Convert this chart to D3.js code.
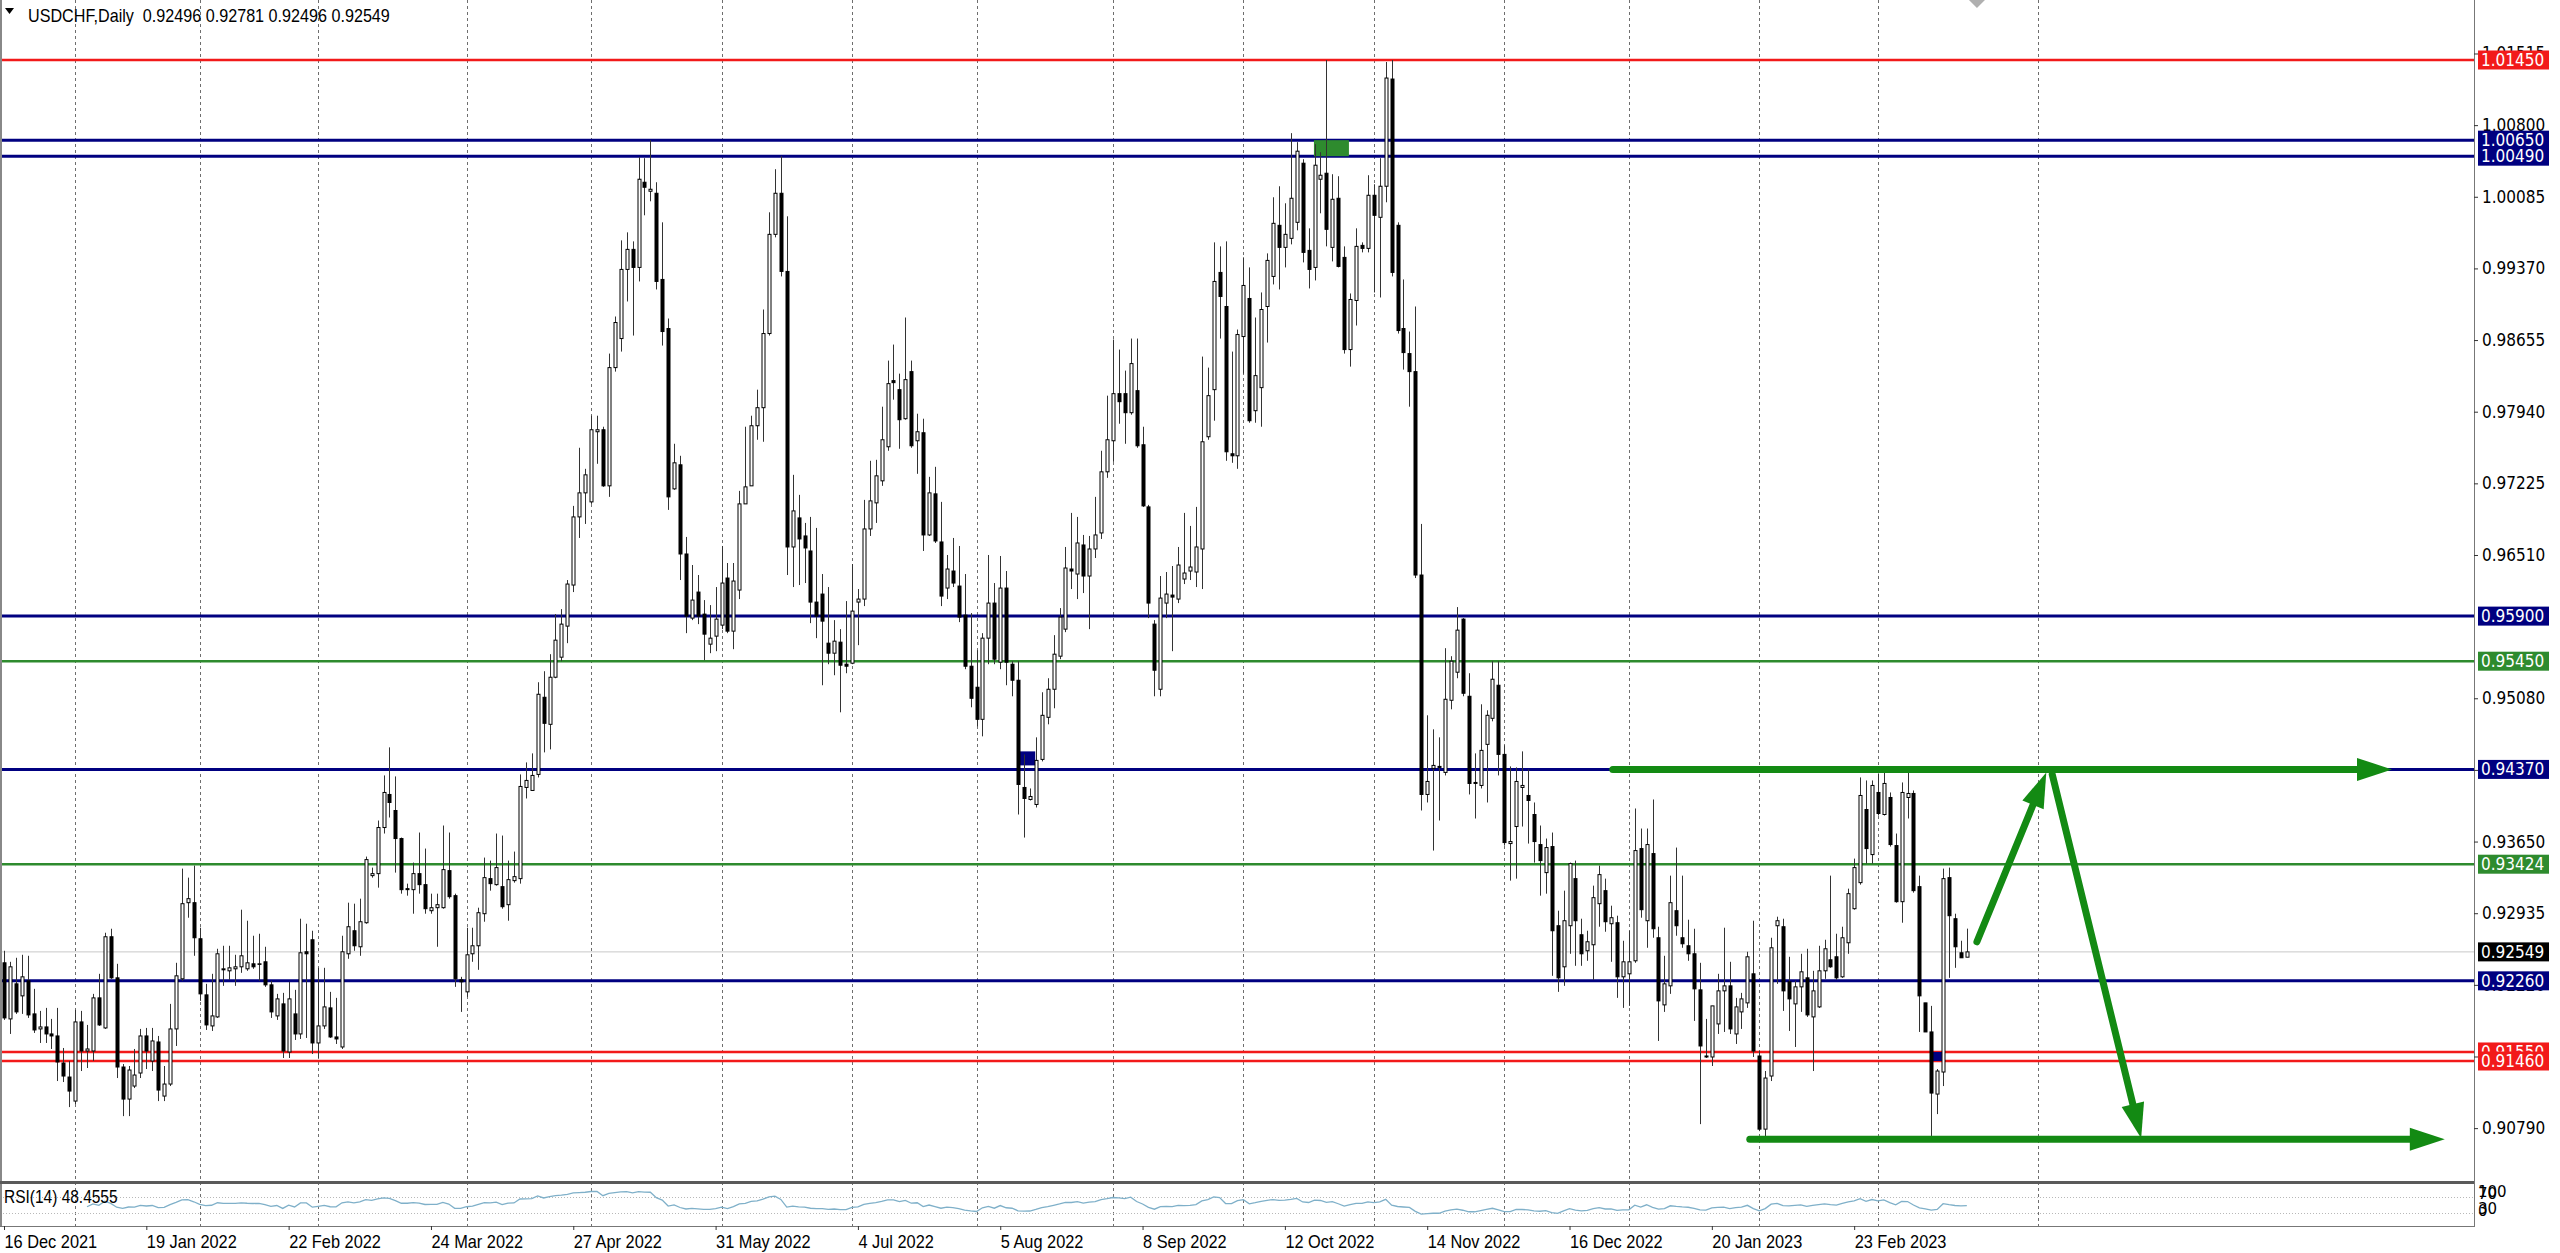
<!DOCTYPE html>
<html><head><meta charset="utf-8">
<script src="https://cdn.jsdelivr.net/npm/d3@7"></script>
<style>html,body{margin:0;padding:0;background:#fff;overflow:hidden}text{white-space:pre}</style>
</head><body>
<svg id="c" width="2560" height="1253"></svg>
<script>
// ---------- DATA (USDCHF Daily, bar index 0 = 16 Dec 2021) ----------
const opens = [
.9244,.9188,.9223,.9211,.9226,.9193,.9178,.9180,.9173,.9171,
.9144,.9130,.9106,.9185,.9156,.9156,.9209,.9179,.9270,.9229,
.9140,.9108,.9121,.9134,.9171,.9146,.9165,.9111,.9123,.9178,
.9228,.9304,.9304,.9268,.9212,.9181,.9190,.9237,.9236,.9238,
.9240,.9238,.9243,.9243,.9245,.9222,.9191,.9203,.9155,.9193,
.9173,.9255,.9267,.9164,.9181,.9199,.9170,.9160,.9253,.9276,
.9260,.9284,.9331,.9333,.9379,.9412,.9396,.9368,.9318,.9317,
.9333,.9322,.9296,.9299,.9299,.9336,.9311,.9227,.9215,.9253,
.9261,.9293,.9328,.9322,.9320,.9302,.9326,.9328,.9419,.9416,
.9432,.9509,.9482,.9529,.9549,.9580,.9621,.9689,.9713,.9704,
.9774,.9776,.9720,.9838,.9867,.9936,.9956,.9938,1.0023,1.0014,
1.0012,.9926,.9877,.9717,.9741,.9652,.9588,.9614,.9592,.9562,
.9570,.9581,.9628,.9575,.9616,.9702,.9720,.9780,.9798,.9872,
.9971,1.0012,.9934,.9659,.9688,.9670,.9655,.9604,.9612,.9563,
.9553,.9564,.9542,.9543,.9604,.9607,.9677,.9703,.9725,.9759,
.9825,.9816,.9787,.9834,.9765,.9773,.9671,.9712,.9664,.9618,
.9635,.9620,.9591,.9540,.9519,.9487,.9568,.9603,.9544,.9618,
.9542,.9526,.9419,.9407,.9402,.9447,.9489,.9517,.9550,.9577,
.9637,.9632,.9661,.9630,.9657,.9673,.9734,.9765,.9812,.9812,
.9793,.9815,.9761,.9699,.9582,.9517,.9603,.9611,.9607,.9627,
.9635,.9634,.9657,.9769,.9816,.9933,.9899,.9752,.9750,.9869,
.9907,.9795,.9818,.9899,.9929,.9980,.9958,.9967,.9983,1.0042,
.9955,.9938,1.0026,1.0032,.9958,1.0007,.9948,.9856,.9905,.9960,
.9957,1.0010,.9988,1.0019,1.0126,.9980,.9877,.9852,.9834,.9631,
.9412,.9438,.9440,.9434,.9506,.9534,.9587,.9510,.9424,.9421,
.9462,.9488,.9521,.9452,.9363,.9380,.9419,.9411,.9392,.9362,
.9334,.9360,.9281,.9240,.9281,.9328,.9272,.9256,.9262,.9303,
.9316,.9283,.9284,.9230,.9233,.9246,.9358,.9286,.9353,.9269,
.9202,.9221,.9296,.9269,.9261,.9253,.9217,.9151,.9150,.9183,
.9216,.9221,.9173,.9195,.9204,.9233,.9151,.9078,.9131,.9281,
.9280,.9225,.9203,.9220,.9229,.9190,.9200,.9236,.9247,.9250,
.9230,.9264,.9298,.9324,.9397,.9352,.9414,.9392,.9409,.9361,
.9305,.9409,.9413,.9320,.9204,.9175,.9113,.9135,.9329,.9288,
.9254,.92496];
const highs = [
.9256,.9245,.9249,.9252,.9251,.9218,.9196,.9199,.9188,.9199,
.9159,.9146,.9197,.9196,.9182,.9213,.9233,.9274,.9278,.9243,
.9143,.9141,.9158,.9178,.9179,.9179,.9171,.9141,.9203,.9244,
.9338,.9329,.9341,.9279,.9223,.9233,.9258,.9261,.9261,.9252,
.9297,.9286,.9271,.9273,.9260,.9226,.9213,.9214,.9225,.9217,
.9288,.9283,.9276,.9239,.9239,.9215,.9209,.9271,.9304,.9303,
.9308,.9350,.9339,.9386,.9431,.9459,.9430,.9369,.9323,.9344,
.9374,.9358,.9313,.9313,.9381,.9374,.9313,.9230,.9279,.9279,
.9299,.9349,.9346,.9373,.9371,.9346,.9355,.9432,.9444,.9453,
.9524,.9535,.9552,.9592,.9597,.9626,.9700,.9758,.9737,.9790,
.9790,.9779,.9852,.9889,.9965,.9973,.9964,1.0048,1.0047,1.0065,
1.0023,.9983,.9887,.9762,.9750,.9669,.9641,.9631,.9606,.9601,
.9619,.9660,.9643,.9643,.9715,.9779,.9790,.9816,.9896,.9993,
1.0036,1.0049,.9989,.9731,.9711,.9683,.9689,.9678,.9632,.9619,
.9586,.9577,.9605,.9642,.9617,.9706,.9745,.9746,.9799,.9845,
.9861,.9832,.9888,.9845,.9792,.9787,.9729,.9739,.9704,.9651,
.9668,.9660,.9632,.9593,.9556,.9573,.9651,.9623,.9650,.9635,
.9545,.9545,.9452,.9418,.9469,.9514,.9528,.9571,.9598,.9659,
.9693,.9689,.9671,.9670,.9709,.9755,.9810,.9866,.9856,.9835,
.9867,.9867,.9779,.9701,.9586,.9630,.9634,.9640,.9659,.9693,
.9680,.9699,.9849,.9838,.9963,.9959,.9964,.9854,.9876,.9948,
.9938,.9888,.9913,.9952,1.0008,1.0019,1.0002,1.0072,1.0063,1.0046,
.9977,1.0061,1.0053,1.0145,1.0031,1.0029,.9959,.9912,.9977,.9963,
1.0030,1.0021,1.0047,1.0143,1.0145,.9983,.9926,.9874,.9899,.9682,
.9491,.9477,.9469,.9558,.9550,.9599,.9588,.9533,.9453,.9502,
.9496,.9545,.9545,.9461,.9440,.9439,.9455,.9437,.9404,.9381,
.9368,.9374,.9296,.9316,.9344,.9346,.9288,.9276,.9321,.9341,
.9328,.9301,.9291,.9266,.9276,.9398,.9378,.9378,.9407,.9280,
.9251,.9331,.9359,.9331,.9287,.9278,.9244,.9188,.9201,.9233,
.9279,.9245,.9209,.9214,.9255,.9286,.9156,.9136,.9269,.9290,
.9288,.9250,.9226,.9253,.9258,.9236,.9261,.9267,.9331,.9273,
.9280,.9318,.9348,.9429,.9426,.9426,.9433,.9436,.9414,.9373,
.9424,.9436,.9416,.9331,.9204,.9201,.9138,.9338,.9339,.9293,
.9266,.92781];
const lows = [
.9187,.9173,.9193,.9193,.9189,.9174,.9164,.9164,.9158,.9126,
.9125,.9100,.9103,.9136,.9139,.9146,.9181,.9178,.9228,.9129,
.9091,.9091,.9119,.9129,.9138,.9136,.9106,.9106,.9121,.9161,
.9226,.9289,.9251,.9206,.9177,.9176,.9189,.9221,.9227,.9221,
.9234,.9236,.9238,.9226,.9220,.9189,.9187,.9149,.9149,.9167,
.9168,.9169,.9153,.9149,.9178,.9169,.9163,.9158,.9248,.9256,
.9251,.9283,.9329,.9319,.9373,.9389,.9334,.9313,.9311,.9293,
.9313,.9293,.9293,.9260,.9298,.9308,.9220,.9195,.9210,.9245,
.9237,.9285,.9316,.9321,.9298,.9286,.9324,.9323,.9408,.9416,
.9429,.9454,.9457,.9528,.9545,.9563,.9614,.9668,.9682,.9702,
.9742,.9719,.9709,.9834,.9854,.9904,.9870,.9924,.9990,1.0004,
.9916,.9860,.9696,.9716,.9626,.9573,.9586,.9582,.9546,.9553,
.9555,.9577,.9573,.9557,.9607,.9702,.9720,.9766,.9764,.9870,
.9968,.9929,.9631,.9619,.9621,.9623,.9583,.9568,.9521,.9542,
.9531,.9494,.9533,.9542,.9561,.9600,.9670,.9683,.9720,.9755,
.9806,.9757,.9786,.9758,.9732,.9655,.9670,.9663,.9600,.9607,
.9619,.9584,.9537,.9499,.9480,.9470,.9542,.9542,.9537,.9521,
.9510,.9392,.9369,.9406,.9399,.9445,.9482,.9498,.9547,.9574,
.9617,.9607,.9613,.9577,.9648,.9667,.9728,.9744,.9782,.9762,
.9791,.9758,.9699,.9588,.9510,.9510,.9588,.9555,.9603,.9622,
.9626,.9619,.9617,.9766,.9785,.9867,.9745,.9743,.9737,.9832,
.9783,.9783,.9779,.9863,.9921,.9916,.9938,.9961,.9975,.9943,
.9917,.9925,.9992,.9959,.9944,.9938,.9852,.9839,.9880,.9953,
.9953,.9913,.9908,1.0003,.9929,.9872,.9836,.9799,.9628,.9396,
.9404,.9356,.9386,.9431,.9497,.9528,.9510,.9412,.9388,.9418,
.9404,.9485,.9431,.9361,.9326,.9328,.9380,.9363,.9344,.9311,
.9313,.9231,.9215,.9221,.9253,.9241,.9241,.9246,.9227,.9280,
.9275,.9245,.9209,.9199,.9201,.9244,.9289,.9259,.9269,.9166,
.9195,.9213,.9271,.9259,.9246,.9186,.9083,.9149,.9141,.9173,
.9175,.9173,.9163,.9178,.9199,.9150,.9076,.9066,.9126,.9223,
.9196,.9176,.9160,.9195,.9190,.9136,.9199,.9228,.9239,.9227,
.9229,.9253,.9297,.9322,.9343,.9343,.9391,.9391,.9360,.9304,
.9284,.9388,.9314,.9175,.9175,.9071,.9093,.9121,.9229,.9239,
.9249,.92496];
const closes = [
.9189,.9240,.9195,.9230,.9192,.9177,.9180,.9173,.9171,.9145,
.9131,.9116,.9185,.9156,.9158,.9209,.9182,.9270,.9229,.9140,
.9108,.9137,.9132,.9171,.9156,.9166,.9117,.9123,.9178,.9231,
.9303,.9308,.9269,.9213,.9182,.9191,.9253,.9238,.9239,.9240,
.9251,.9244,.9240,.9243,.9222,.9195,.9208,.9156,.9208,.9173,
.9254,.9253,.9164,.9181,.9200,.9170,.9168,.9255,.9280,.9261,
.9285,.9347,.9333,.9379,.9414,.9404,.9368,.9317,.9317,.9333,
.9322,.9298,.9299,.9302,.9337,.9310,.9228,.9225,.9252,.9261,
.9294,.9329,.9323,.9339,.9300,.9327,.9330,.9420,.9426,.9431,
.9512,.9483,.9529,.9566,.9582,.9622,.9689,.9713,.9731,.9776,
.9776,.9720,.9838,.9883,.9936,.9956,.9938,1.0026,1.0018,1.0016,
.9924,.9874,.9709,.9743,.9652,.9590,.9606,.9590,.9572,.9568,
.9587,.9623,.9575,.9625,.9702,.9719,.9780,.9798,.9872,.9971,
1.0012,.9934,.9659,.9695,.9667,.9658,.9604,.9590,.9585,.9553,
.9565,.9541,.9540,.9595,.9607,.9677,.9705,.9730,.9766,.9822,
.9823,.9786,.9826,.9760,.9774,.9671,.9713,.9665,.9610,.9637,
.9623,.9589,.9540,.9508,.9487,.9568,.9603,.9547,.9618,.9544,
.9526,.9422,.9408,.9410,.9446,.9491,.9517,.9552,.9589,.9638,
.9635,.9663,.9630,.9657,.9671,.9734,.9766,.9812,.9804,.9793,
.9842,.9760,.9700,.9603,.9536,.9608,.9612,.9609,.9641,.9633,
.9639,.9659,.9764,.9810,.9924,.9909,.9754,.9750,.9871,.9920,
.9785,.9830,.9896,.9945,.9982,.9958,.9971,1.0007,1.0054,.9953,
.9936,1.0040,1.0030,.9976,1.0006,.9939,.9856,.9906,.9959,.9957,
1.0010,.9990,1.0019,1.0127,.9933,.9875,.9853,.9834,.9631,.9412,
.9425,.9441,.9439,.9507,.9545,.9576,.9513,.9423,.9423,.9456,
.9491,.9527,.9452,.9364,.9365,.9425,.9421,.9406,.9365,.9346,
.9359,.9276,.9229,.9286,.9343,.9286,.9253,.9265,.9309,.9332,
.9285,.9289,.9230,.9245,.9245,.9356,.9297,.9362,.9278,.9206,
.9223,.9304,.9281,.9263,.9253,.9218,.9161,.9150,.9201,.9216,
.9221,.9178,.9200,.9208,.9250,.9156,.9078,.9129,.9259,.9286,
.9216,.9208,.9220,.9235,.9192,.9216,.9236,.9258,.9240,.9229,
.9269,.9313,.9339,.9411,.9358,.9421,.9393,.9423,.9362,.9305,
.9414,.9413,.9316,.9211,.9175,.9114,.9136,.9328,.9291,.9260,
.9249,.92549];

const dateTickBars   = [0,24,48,72,96,120,144,168,192,216,240,264,288,312];
const dateTickLabels = ["16 Dec 2021","19 Jan 2022","22 Feb 2022","24 Mar 2022","27 Apr 2022","31 May 2022",
  "4 Jul 2022","5 Aug 2022","8 Sep 2022","12 Oct 2022","14 Nov 2022","16 Dec 2022","20 Jan 2023","23 Feb 2023"];
const gridBars = [12,33,53,78,99,121,143,164,187,209,231,253,274,296,316,343];
const priceTicks = [1.01515,1.00800,1.00085,0.99370,0.98655,0.97940,0.97225,0.96510,
  0.95080,0.94365,0.93650,0.92935,0.92220,0.91505,0.90790];

const levelPrices = [1.01450,1.00650,1.00490,0.95900,0.95450,0.94370,0.93424,0.92260,0.91550,0.91460];
const levelKinds  = ["red","navy","navy","navy","green","navy","green","navy","red","red"];
const lastPrice = 0.92549;

const rectBar0 = [220.9,171.2,324.8], rectBar1 = [226.8,173.9,326.8];
const rectP0 = [1.0065,0.9455,0.9155], rectP1 = [1.0049,0.9441,0.9146];
const rectKinds = ["green","navy","navy"];

const arrowBar0 = [271.3,294.4,332.7,345.4], arrowP0 = [0.9437,0.9068,0.9265,0.9432];
const arrowBar1 = [402.7,411.6,344.4,360.4], arrowP1 = [0.9437,0.9068,0.9434,0.9069];

const headerText = "USDCHF,Daily  0.92496 0.92781 0.92496 0.92549";
const rsiText = "RSI(14) 48.4555";
const rsiLevels = [70,30];
const rsiScaleLabels = [100,70,30,0];

// ---------- DRAW ----------
const COL = {red:"#f21a1a", navy:"#000080", green:"#2e8b2e"};
const AX = 2474, MAIN_B = 1181, RSI_T = 1185, RSI_B = 1226;
const svg = d3.select("#c");
const x = d3.scaleLinear().domain([0,331]).range([4, 4 + 5.93*331]);
const y = d3.scaleLinear().domain([1.0145,0.9146]).range([60,1061]);
const yr = d3.scaleLinear().domain([0,100]).range([1225,1185]);

function squeeze(sel, f){ sel.each(function(){ const w=this.getComputedTextLength();
  d3.select(this).attr("textLength", w*f).attr("lengthAdjust","spacingAndGlyphs"); }); }

svg.append("rect").attr("width",2560).attr("height",1253).attr("fill","#fff");
const defs = svg.append("defs");
defs.append("clipPath").attr("id","mainClip").append("rect").attr("x",0).attr("y",0).attr("width",AX).attr("height",MAIN_B);
defs.append("clipPath").attr("id","rsiClip").append("rect").attr("x",0).attr("y",RSI_T).attr("width",AX).attr("height",RSI_B-RSI_T);

// vertical grid
svg.append("g").selectAll("line").data(gridBars).join("line")
  .attr("x1",d=>Math.round(x(d))+0.5).attr("x2",d=>Math.round(x(d))+0.5)
  .attr("y1",0).attr("y2",RSI_B)
  .attr("stroke","#6e6e6e").attr("stroke-width",1).attr("stroke-dasharray","3,3");

const main = svg.append("g").attr("clip-path","url(#mainClip)");

// level lines
main.append("line").attr("x1",0).attr("x2",AX).attr("y1",y(lastPrice)).attr("y2",y(lastPrice))
  .attr("stroke","#c8c8c8").attr("stroke-width",1);
main.selectAll(".lvl").data(levelPrices).join("line").attr("class","lvl")
  .attr("x1",0).attr("x2",AX).attr("y1",d=>y(d)).attr("y2",d=>y(d))
  .attr("stroke",(d,i)=>COL[levelKinds[i]])
  .attr("stroke-width",(d,i)=>levelKinds[i]==="navy"?3:2.5);

// rectangles
main.selectAll(".box").data(rectBar0).join("rect").attr("class","box")
  .attr("x",(d)=>x(d)).attr("width",(d,i)=>x(rectBar1[i])-x(d))
  .attr("y",(d,i)=>y(rectP0[i])).attr("height",(d,i)=>y(rectP1[i])-y(rectP0[i]))
  .attr("fill",(d,i)=>COL[rectKinds[i]]);

// candles
const idx = d3.range(opens.length);
main.append("g").selectAll("line").data(idx).join("line")
  .attr("x1",i=>Math.round(x(i))+0.5).attr("x2",i=>Math.round(x(i))+0.5)
  .attr("y1",i=>y(highs[i])).attr("y2",i=>y(lows[i]))
  .attr("stroke","#333").attr("stroke-width",1);
main.append("g").selectAll("rect").data(idx).join("rect")
  .attr("x",i=>Math.round(x(i))-1)
  .attr("width",3)
  .attr("y",i=>y(Math.max(opens[i],closes[i])))
  .attr("height",i=>Math.max(0.6, Math.abs(y(opens[i])-y(closes[i]))))
  .attr("fill",i=>closes[i]>=opens[i]?"#fff":"#000")
  .attr("stroke","#000").attr("stroke-width",1);

// arrows
const AG = "#138a13";
arrowBar0.forEach((b,i)=>{
  const x0=x(b), y0=y(arrowP0[i]), x1=x(arrowBar1[i]), y1=y(arrowP1[i]);
  const dx=x1-x0, dy=y1-y0, L=Math.hypot(dx,dy), ux=dx/L, uy=dy/L, nx=-uy, ny=ux;
  const hl=35, hw=11.5;
  const bx=x1-ux*hl, by=y1-uy*hl;
  main.append("line").attr("x1",x0).attr("y1",y0).attr("x2",bx+ux*2).attr("y2",by+uy*2)
    .attr("stroke",AG).attr("stroke-width",7).attr("stroke-linecap","round");
  main.append("polygon").attr("points",[[x1,y1],[bx+nx*hw,by+ny*hw],[bx-nx*hw,by-ny*hw]].map(p=>p.join(",")).join(" "))
    .attr("fill",AG);
});

// RSI
const rsiVals = (function(cl,n){
  const out=new Array(cl.length).fill(null); let g=0,l=0;
  for(let i=1;i<=n;i++){const d=cl[i]-cl[i-1]; if(d>0)g+=d; else l-=d;}
  g/=n; l/=n; out[n]=100-100/(1+g/l);
  for(let i=n+1;i<cl.length;i++){const d=cl[i]-cl[i-1];
    g=(g*(n-1)+Math.max(d,0))/n; l=(l*(n-1)+Math.max(-d,0))/n;
    out[i]= l===0?100:100-100/(1+g/l);}
  return out;})(closes,14);
const rg = svg.append("g").attr("clip-path","url(#rsiClip)");
rg.selectAll(".rl").data(rsiLevels).join("line").attr("class","rl")
  .attr("x1",0).attr("x2",AX).attr("y1",d=>Math.round(yr(d))+0.5).attr("y2",d=>Math.round(yr(d))+0.5)
  .attr("stroke","#b8b8b8").attr("stroke-width",1).attr("stroke-dasharray","1,2");
rg.append("path").datum(rsiVals)
  .attr("d",d3.line().defined(d=>d!=null).x((d,i)=>x(i)).y(d=>yr(d)))
  .attr("fill","none").attr("stroke","#7fb0c9").attr("stroke-width",1.3);

// panel borders
svg.append("line").attr("x1",1).attr("x2",1).attr("y1",0).attr("y2",RSI_B).attr("stroke","#888").attr("stroke-width",2);
svg.append("line").attr("x1",AX+0.5).attr("x2",AX+0.5).attr("y1",0).attr("y2",RSI_B+0.5).attr("stroke","#777").attr("stroke-width",1);
svg.append("line").attr("x1",0).attr("x2",AX).attr("y1",MAIN_B+1.5).attr("y2",MAIN_B+1.5).attr("stroke","#5a5a5a").attr("stroke-width",3);
svg.append("line").attr("x1",0).attr("x2",AX+1).attr("y1",RSI_B+0.5).attr("y2",RSI_B+0.5).attr("stroke","#777").attr("stroke-width",1);

// price axis
const yAxis = d3.axisRight(y).tickValues(priceTicks).tickFormat(d3.format(".5f")).tickSize(4).tickPadding(4);
const ga = svg.append("g").attr("transform",`translate(${AX},0)`).call(yAxis);
ga.select(".domain").remove();
ga.selectAll("text").attr("font-family","DejaVu Sans").attr("font-size",17).attr("fill","#000");
squeeze(ga.selectAll("text"), 0.9);
ga.selectAll("line").attr("stroke","#333");

// level labels
const lab = svg.append("g");
function priceLabel(p,fill){
  lab.append("rect").attr("x",AX+4).attr("y",y(p)-9.5).attr("width",71).attr("height",19).attr("fill",fill);
  const t = lab.append("text").attr("x",AX+7).attr("y",y(p)+6).attr("font-family","DejaVu Sans").attr("font-size",17)
    .attr("fill","#fff").text(d3.format(".5f")(p));
  squeeze(t, 0.9);
}
levelPrices.forEach((p,i)=>priceLabel(p,COL[levelKinds[i]]));
priceLabel(lastPrice,"#000");

// RSI scale labels (overlapping like the original)
const rsiLabY = [1197,1199,1214,1216];
rsiScaleLabels.forEach((v,i)=>{
  svg.append("text").attr("x",AX+4).attr("y",rsiLabY[i]).attr("font-family","DejaVu Sans").attr("font-size",15).attr("fill","#000").text(v);
});

// date axis
const xAxis = d3.axisBottom(x).tickValues(dateTickBars).tickFormat((d,i)=>dateTickLabels[i]).tickSize(4).tickPadding(3);
const gx = svg.append("g").attr("transform",`translate(0,${RSI_B})`).call(xAxis);
gx.select(".domain").remove();
gx.selectAll("text").attr("text-anchor","start").attr("font-family","Liberation Sans").attr("font-size",19).attr("fill","#000").attr("dy","0.78em");
squeeze(gx.selectAll("text"), 0.86);
gx.selectAll("line").attr("stroke","#333");

// header
svg.append("polygon").attr("points","5,8 14,8 9.5,14").attr("fill","#000");
const ht = svg.append("text").attr("x",28).attr("y",22).attr("font-family","Liberation Sans").attr("font-size",19).attr("fill","#000").text(headerText);
squeeze(ht, 0.85);
const rt = svg.append("text").attr("x",4).attr("y",1203).attr("font-family","Liberation Sans").attr("font-size",18).attr("fill","#000").text(rsiText);
squeeze(rt, 0.86);

// chart shift marker
const sx = x(332.7);
svg.append("polygon").attr("points",`${sx-8},0 ${sx+8},0 ${sx},8`).attr("fill","#b0b0b0");
</script>
</body></html>
